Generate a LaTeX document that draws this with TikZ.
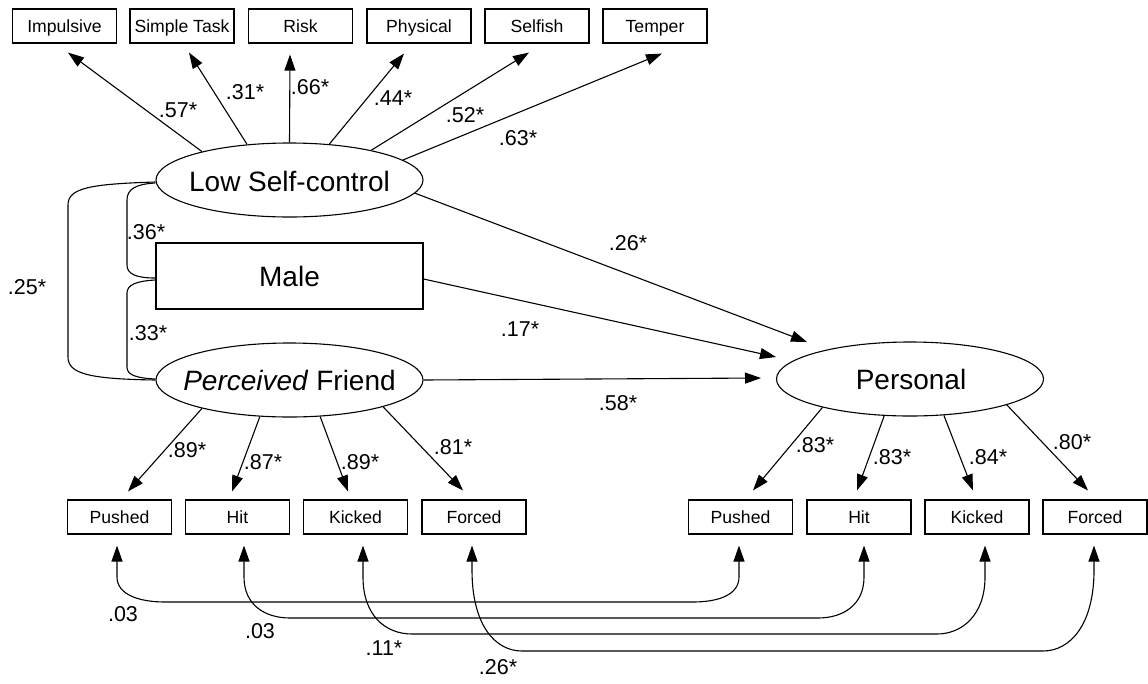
\documentclass[tikz,border=0pt]{standalone}
\usepackage{fontspec}
\setmainfont{Liberation Sans}
\usetikzlibrary{shapes.geometric,arrows.meta,calc}
\begin{document}
\begin{tikzpicture}[x=1pt,y=-1pt,line width=1.1pt,
  ind/.style={draw,rectangle,minimum width=104pt,minimum height=34pt,inner sep=0pt,text height=12.6pt,text depth=0pt,font=\fontsize{17.6}{20}\selectfont},
  lat/.style={draw,ellipse,minimum width=267pt,minimum height=74pt,inner sep=0pt},
  big/.style={font=\fontsize{28}{30}\selectfont,inner sep=0pt,text height=20pt,text depth=0pt},
  coef/.style={font=\fontsize{21.5}{24}\selectfont,inner sep=0pt},
  arr/.style={-{Triangle[length=16pt,width=11pt]}},
  darr/.style={{Triangle[length=16pt,width=11pt]}-{Triangle[length=16pt,width=11pt]}}]
\useasboundingbox (0,0) rectangle (1148,683);
% top indicators
\node[ind] (imp) at (64.5,26) {Impulsive};
\node[ind] (simp) at (182,26) {Simple Task};
\node[ind] (risk) at (300.5,26) {Risk};
\node[ind] (phys) at (419,26) {Physical};
\node[ind] (self) at (537,26) {Selfish};
\node[ind] (temp) at (655,26) {Temper};
% latent and observed
\node[lat] (lsc) at (289.5,180) {};
\node[big] (lsct) at (289.5,181) {Low Self-control};
\node[draw,rectangle,minimum width=267pt,minimum height=66pt,big] (male) at (289.5,276) {Male};
\node[lat] (pf) at (289.5,380) {};
\node[big] (pft) at (289.5,380) {\textit{Perceived} Friend};
\node[lat] (pers) at (910,379) {};
\node[big] (perst) at (911,379) {Personal};
% bottom indicators
\node[ind] (lpu) at (119.5,517) {Pushed};
\node[ind] (lhi) at (237.5,517) {Hit};
\node[ind] (lki) at (355.5,517) {Kicked};
\node[ind] (lfo) at (474,517) {Forced};
\node[ind] (rpu) at (740.5,517) {Pushed};
\node[ind] (rhi) at (859,517) {Hit};
\node[ind] (rki) at (977,517) {Kicked};
\node[ind] (rfo) at (1095,517) {Forced};
% loadings of low self-control
\draw[arr] (lsc.162) -- ($(imp.south)+(3.5,9)$);
\draw[arr] (lsc.140) -- ($(simp.south)+(7,9)$);
\draw[arr] (lsc.90) -- ($(risk.south)+(-10.5,11)$);
\draw[arr] (lsc.42) -- ($(phys.south)+(-15,10)$);
\draw[arr] (lsc.20) -- ($(self.south)+(-8,9)$);
\draw[arr] (lsc.10) -- ($(temp.south)+(7,10)$);
% structural paths
\draw[arr] (lsc.-6) -- ($(pers)+(-103,-37)$);
\draw[arr] ($(male.east)+(0,3)$) -- ($(pers)+(-134,-22)$);
\draw[arr] (pf.east) -- ($(pers)+(-149,-1)$);
% loadings friend
\draw[arr] (pf.198) -- ($(lpu.north)+(8.5,-8)$);
\draw[arr] (pf.231) -- ($(lhi.north)+(-5.5,-8)$);
\draw[arr] (pf.310) -- ($(lki.north)+(-7.5,-8)$);
\draw[arr] (pf.344) -- ($(lfo.north)+(-11,-9)$);
% loadings personal
\draw[arr] (pers.198) -- ($(rpu.north)+(12.5,-9)$);
\draw[arr] (pers.235) -- ($(rhi.north)+(-2,-9)$);
\draw[arr] (pers.313) -- ($(rki.north)+(-4,-9)$);
\draw[arr] (pers.345) -- ($(rfo.north)+(-7,-9)$);
% correlations left
\draw ($(lsc.west)+(0,2)$) .. controls (90,184) and (68,188) .. (68,205) -- (68,357) .. controls (68,374) and (90,379) .. (pf.west);
\draw ($(lsc.west)+(0,3)$) .. controls (136,184) and (127,189) .. (127,200) -- (127,265) .. controls (127,274) and (136,278) .. ($(male.west)+(0,2)$);
\draw ($(male.west)+(0,4)$) .. controls (136,281) and (127,285) .. (127,293) -- (127,367) .. controls (127,375) and (136,378) .. ($(pf.west)+(0,-1)$);
% residual covariances
\coordinate (a1) at ($(lpu.south)+(-2.5,11)$);
\coordinate (b1) at ($(rpu.south)+(-1.5,11)$);
\coordinate (a2) at ($(lhi.south)+(6.5,11)$);
\coordinate (b2) at ($(rhi.south)+(5,11)$);
\coordinate (a3) at ($(lki.south)+(7.5,11)$);
\coordinate (b3) at ($(rki.south)+(8,11)$);
\coordinate (a4) at ($(lfo.south)+(-2,11)$);
\coordinate (b4) at ($(rfo.south)+(-1,11)$);
\draw[darr] (a1) -- (117,577) .. controls (117,595) and (140,602) .. (165,602) -- (693,602) .. controls (718,602) and (739,595) .. (739,577) -- (b1);
\draw[darr] (a2) -- (244,577) .. controls (244,605) and (265,618) .. (290,618) -- (818,618) .. controls (843,618) and (864,605) .. (864,577) -- (b2);
\draw[darr] (a3) -- (363,577) .. controls (363,615) and (385,634) .. (412,634) -- (937,634) .. controls (962,634) and (985,615) .. (985,577) -- (b3);
\draw[darr] (a4) -- (472,570) .. controls (472,625) and (495,651) .. (522,651) -- (1043,651) .. controls (1070,651) and (1094,625) .. (1094,570) -- (b4);
% coefficients
\node[coef] (c1) at (178,110) {.57*};
\node[coef] (c2) at (245,92) {.31*};
\node[coef] (c3) at (310,87) {.66*};
\node[coef] (c4) at (393,98) {.44*};
\node[coef] (c5) at (465,115) {.52*};
\node[coef] (c6) at (518,138) {.63*};
\node[coef] (c7) at (628,243) {.26*};
\node[coef] (c8) at (520,329) {.17*};
\node[coef] (c9) at (618,403) {.58*};
\node[coef] (c10) at (146,232) {.36*};
\node[coef] (c11) at (148,333) {.33*};
\node[coef] (c12) at (27,287) {.25*};
\node[coef] (c13) at (187,450) {.89*};
\node[coef] (c14) at (263,462) {.87*};
\node[coef] (c15) at (360,462) {.89*};
\node[coef] (c16) at (453,447) {.81*};
\node[coef] (c17) at (815,445) {.83*};
\node[coef] (c18) at (892,457) {.83*};
\node[coef] (c19) at (988,457) {.84*};
\node[coef] (c20) at (1072,442) {.80*};
\node[coef] (c21) at (123,614) {.03};
\node[coef] (c22) at (260,631) {.03};
\node[coef] (c23) at (384,648) {.11*};
\node[coef] (c24) at (498,667) {.26*};
\end{tikzpicture}
\end{document}
